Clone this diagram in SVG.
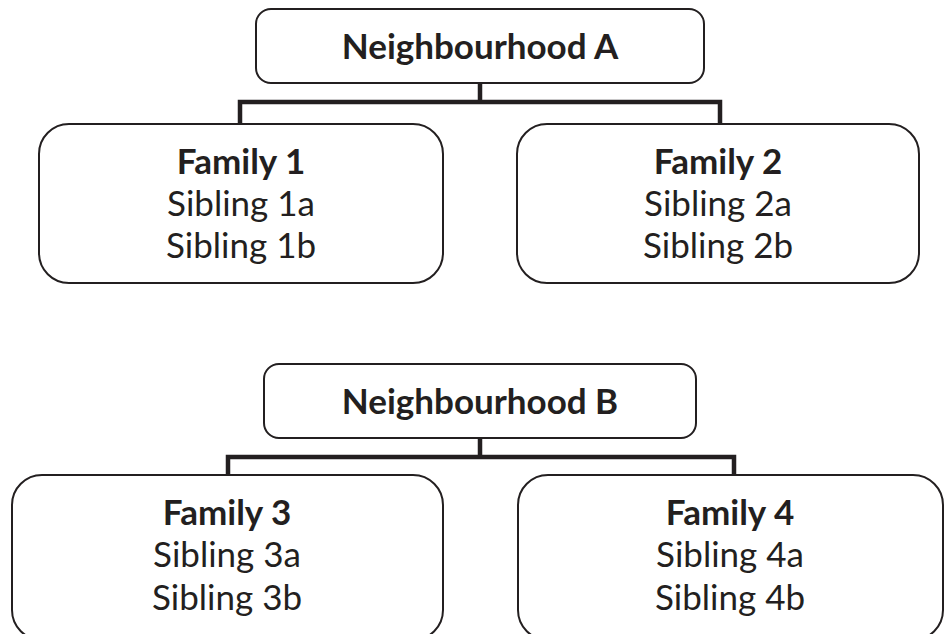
<svg xmlns="http://www.w3.org/2000/svg" width="945" height="634" viewBox="0 0 945 634">
<style>
.box{fill:#fff;stroke:#231f20;stroke-width:2}
.conn{fill:none;stroke:#231f20;stroke-width:4.5;stroke-linecap:butt;stroke-linejoin:miter}
text{font-family:Lato,"Open Sans","Liberation Sans",sans-serif;fill:#231f20;text-anchor:middle;font-size:35px}
.b{font-weight:bold}
</style>
<rect width="945" height="634" fill="#fff"/>
<g id="connectors">
<path class="conn" d="M480,83 V102 M240,126 V102 H720 V126"/>
<path class="conn" d="M480,438 V457 M228,476 V457 H734 V476"/>
</g>
<g id="neighbourhoodA">
<rect class="box" x="256" y="9" width="448" height="74" rx="15"/>
<text class="b" x="480" y="59">Neighbourhood A</text>
</g>
<g id="family1">
<rect class="box" x="39" y="124" width="404" height="159" rx="30"/>
<text class="b" x="241" y="174">Family 1</text>
<text x="241" y="216">Sibling 1a</text>
<text x="241" y="258">Sibling 1b</text>
</g>
<g id="family2">
<rect class="box" x="517" y="124" width="402" height="159" rx="30"/>
<text class="b" x="718" y="174">Family 2</text>
<text x="718" y="216">Sibling 2a</text>
<text x="718" y="258">Sibling 2b</text>
</g>
<g id="neighbourhoodB">
<rect class="box" x="264" y="364" width="432" height="74" rx="15"/>
<text class="b" x="480" y="414">Neighbourhood B</text>
</g>
<g id="family3">
<rect class="box" x="12" y="475" width="431" height="165" rx="30"/>
<text class="b" x="227" y="525">Family 3</text>
<text x="227" y="567">Sibling 3a</text>
<text x="227" y="610">Sibling 3b</text>
</g>
<g id="family4">
<rect class="box" x="518" y="475" width="425" height="165" rx="30"/>
<text class="b" x="730" y="525">Family 4</text>
<text x="730" y="567">Sibling 4a</text>
<text x="730" y="610">Sibling 4b</text>
</g>
</svg>
